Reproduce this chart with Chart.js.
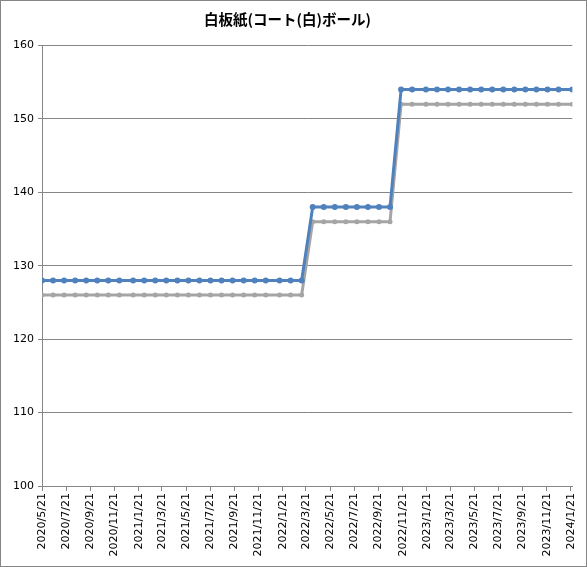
<!DOCTYPE html>
<html>
<head>
<meta charset="utf-8">
<script src="https://cdn.jsdelivr.net/npm/chart.js@4/dist/chart.umd.min.js"></script>
<style>
  html, body { margin: 0; padding: 0; background: #fff; }
  #wrap { position: relative; width: 585px; height: 565px; border: 1px solid #868686; }
</style>
</head>
<body>
<div id="wrap"><canvas id="chart"></canvas></div>
<script>
// --- DATA ---
const chartTitle = "白板紙(コート(白)ボール)";

const dates = [
  "2020/5/21", "2020/6/18", "2020/7/16", "2020/8/13", "2020/9/10", "2020/10/8",
  "2020/11/5", "2020/12/3", "2021/1/7", "2021/2/4", "2021/3/4", "2021/4/1",
  "2021/4/29", "2021/5/27", "2021/6/24", "2021/7/22", "2021/8/19", "2021/9/16",
  "2021/10/14", "2021/11/11", "2021/12/9", "2022/1/13", "2022/2/10", "2022/3/10",
  "2022/4/7", "2022/5/5", "2022/6/2", "2022/6/30", "2022/7/28", "2022/8/25",
  "2022/9/22", "2022/10/20", "2022/11/17", "2022/12/15", "2023/1/19", "2023/2/16",
  "2023/3/16", "2023/4/13", "2023/5/11", "2023/6/8", "2023/7/6", "2023/8/3",
  "2023/8/31", "2023/9/28", "2023/10/26", "2023/11/23", "2023/12/21", "2024/1/25"
];

const blueValues = [
  128, 128, 128, 128, 128, 128, 128, 128, 128, 128, 128, 128,
  128, 128, 128, 128, 128, 128, 128, 128, 128, 128, 128, 128,
  138, 138, 138, 138, 138, 138, 138, 138,
  154, 154, 154, 154, 154, 154, 154, 154, 154, 154, 154, 154, 154, 154, 154, 154
];

const grayValues = [
  126, 126, 126, 126, 126, 126, 126, 126, 126, 126, 126, 126,
  126, 126, 126, 126, 126, 126, 126, 126, 126, 126, 126, 126,
  136, 136, 136, 136, 136, 136, 136, 136,
  152, 152, 152, 152, 152, 152, 152, 152, 152, 152, 152, 152, 152, 152, 152, 152
];

const tickLabels = [
  "2020/5/21", "2020/7/21", "2020/9/21", "2020/11/21", "2021/1/21", "2021/3/21",
  "2021/5/21", "2021/7/21", "2021/9/21", "2021/11/21", "2022/1/21", "2022/3/21",
  "2022/5/21", "2022/7/21", "2022/9/21", "2022/11/21", "2023/1/21", "2023/3/21",
  "2023/5/21", "2023/7/21", "2023/9/21", "2023/11/21", "2024/1/21"
];

// --- helpers: date string -> day number ---
function toDay(s) {
  const p = s.split("/").map(Number);
  return Math.round(Date.UTC(p[0], p[1] - 1, p[2]) / 86400000);
}
const day0 = toDay(dates[0]);
const tickDays = tickLabels.map((t) => toDay(t) - day0);
const tickText = {};
tickLabels.forEach((t, i) => (tickText[tickDays[i]] = t));

const blueData = dates.map((d, i) => ({ x: toDay(d) - day0, y: blueValues[i] }));
const grayData = dates.map((d, i) => ({ x: toDay(d) - day0, y: grayValues[i] }));

const font = "'DejaVu Sans', 'Noto Sans CJK JP', sans-serif";
const lineGray = "#868686";

new Chart(document.getElementById("chart"), {
  type: "line",
  data: {
    datasets: [
      {
        data: blueData,
        borderColor: "#4F81BD",
        backgroundColor: "#4F81BD",
        borderWidth: 3,
        pointRadius: 3,
        pointBorderWidth: 0,
        pointBackgroundColor: "#4F81BD",
        tension: 0,
      },
      {
        data: grayData,
        borderColor: "#A5A5A5",
        backgroundColor: "#A5A5A5",
        borderWidth: 3,
        pointRadius: 2.5,
        pointBorderWidth: 0,
        pointBackgroundColor: "#A5A5A5",
        tension: 0,
      },
    ],
  },
  options: {
    responsive: true,
    maintainAspectRatio: false,
    animation: false,
    layout: { padding: { left: 0, right: 12, top: 0, bottom: 0 } },
    plugins: {
      legend: { display: false },
      tooltip: { enabled: false },
      title: {
        display: true,
        text: chartTitle,
        color: "#000",
        font: { family: "'Noto Sans CJK JP', sans-serif", size: 14.5, weight: "bold" },
        padding: { top: 10, bottom: 17 },
      },
    },
    scales: {
      x: {
        type: "linear",
        min: 0,
        max: blueData[blueData.length - 1].x,
        afterBuildTicks: (scale) => {
          scale.ticks = tickDays.map((v) => ({ value: v }));
        },
        afterFit: (scale) => {
          scale.height = 80;
        },
        border: { color: lineGray, width: 1 },
        grid: { drawOnChartArea: false, drawTicks: true, tickLength: 5, color: lineGray },
        ticks: {
          autoSkip: false,
          minRotation: 90,
          maxRotation: 90,
          color: "#000",
          padding: 2,
          font: { family: font, size: 11 },
          callback: (v) => tickText[v] || "",
        },
      },
      y: {
        min: 100,
        max: 160,
        afterFit: (scale) => {
          scale.width = 41;
        },
        border: { color: lineGray, width: 1 },
        grid: { color: lineGray, tickLength: 4 },
        ticks: {
          stepSize: 10,
          color: "#000",
          padding: 4,
          font: { family: font, size: 11 },
        },
      },
    },
  },
});
</script>
</body>
</html>
